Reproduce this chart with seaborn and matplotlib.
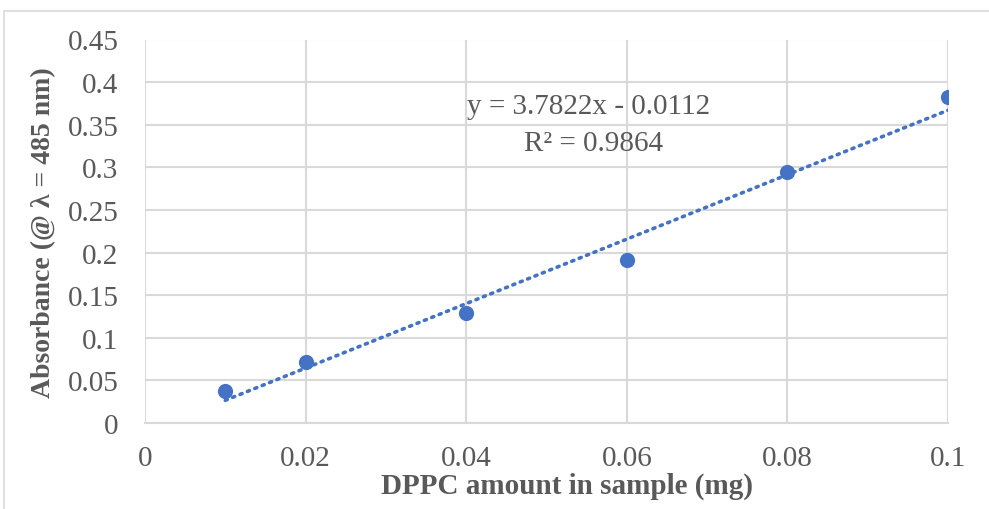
import matplotlib
matplotlib.use("Agg")
import matplotlib.pyplot as plt
from matplotlib.patches import Rectangle
import numpy as np
import pandas as pd
import seaborn as sns

# DPPC calibration measurements
dppc_mg = [0.01, 0.02, 0.04, 0.06, 0.08, 0.10]
absorbance = [0.038, 0.072, 0.129, 0.191, 0.294, 0.383]

# Linear trendline reported on the chart
slope = 3.7822
intercept = -0.0112
r_squared_text = "R² = 0.9864"

x_ticks = [0, 0.02, 0.04, 0.06, 0.08, 0.1]
x_tick_labels = ["0", "0.02", "0.04", "0.06", "0.08", "0.1"]
y_ticks = [0, 0.05, 0.1, 0.15, 0.2, 0.25, 0.3, 0.35, 0.4, 0.45]
y_tick_labels = ["0", "0.05", "0.1", "0.15", "0.2", "0.25", "0.3", "0.35", "0.4", "0.45"]

sns.set_theme(style="white")
plt.rcParams["font.family"] = ["Liberation Serif", "DejaVu Serif"]

blue = "#4472C4"
grid_c = "#D9D9D9"
text_c = "#595959"

df = pd.DataFrame({"x": dppc_mg, "y": absorbance})

fig = plt.figure(figsize=(9.89, 5.10), dpi=100)
fig.patches.append(Rectangle((4 / 989, -0.1), 1.2, (510 - 12) / 510 + 0.1,
                             transform=fig.transFigure, fill=False,
                             edgecolor="#D9D9D9", linewidth=1.2))
ax = fig.add_axes([145 / 989, 86 / 510, 803 / 989, 383.5 / 510])

# trendline over the range of the measurements
line_x = np.array([min(dppc_mg), max(dppc_mg)])
line_y = slope * line_x + intercept
ax.plot(line_x, line_y, linestyle=(0, (0.6, 1.6)), color=blue, linewidth=2.6,
        dash_capstyle="round", zorder=3)

sns.scatterplot(data=df, x="x", y="y", ax=ax, color=blue, s=120, marker="o",
                edgecolor=blue, linewidth=0, zorder=4)

ax.set_xlim(0, 0.1)
ax.set_ylim(0, 0.45)
ax.set_xticks(x_ticks)
ax.set_xticklabels(x_tick_labels)
ax.set_yticks(y_ticks)
ax.set_yticklabels(y_tick_labels)
ax.grid(True, color=grid_c, linewidth=1.5)
ax.set_axisbelow(True)
for side in ["top", "right", "left"]:
    ax.spines[side].set_visible(False)
ax.spines["bottom"].set_color(grid_c)
ax.spines["bottom"].set_linewidth(1.5)
ax.tick_params(axis="both", length=0, labelsize=21, colors=text_c)
ax.tick_params(axis="y", pad=19)
ax.tick_params(axis="x", pad=16)

ax.set_xlabel("DPPC amount in sample (mg)", fontsize=21, fontweight="bold",
              color=text_c, labelpad=4)
ax.xaxis.set_label_coords(0.5255, -0.127, transform=ax.transAxes)
ax.xaxis.label.set_verticalalignment("top")
ax.set_ylabel("Absorbance (@ λ = 485 nm)", fontsize=20, fontweight="bold",
              color=text_c, labelpad=8)

ax.text(0.0553, 0.372, f"y = {slope}x - {abs(intercept)}", fontsize=21,
        color=text_c, ha="center", va="center")
ax.text(0.0558, 0.328, r_squared_text, fontsize=21, color=text_c,
        ha="center", va="center")

fig.savefig("out.png", dpi=100)
